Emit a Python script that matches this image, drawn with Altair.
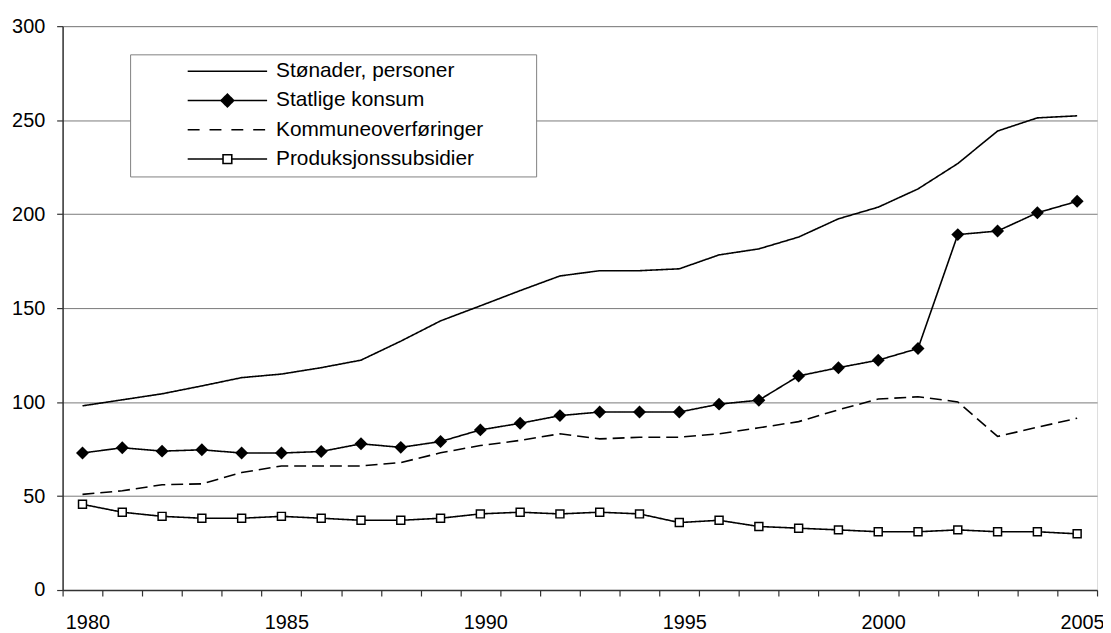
import altair as alt
import pandas as pd

years = list(range(1980, 2006))
series_names = ["Stønader, personer", "Statlige konsum", "Kommuneoverføringer", "Produksjonssubsidier"]

stonader = [98.0, 101.2, 104.4, 108.6, 113.0, 114.9, 118.3, 122.3, 132.4, 143.2, 151.2, 159.3, 167.1,
            169.9, 169.9, 170.9, 178.3, 181.5, 187.8, 197.5, 203.7, 213.4, 226.9, 244.2, 251.2, 252.3]
statlige = [72.9, 75.7, 73.9, 74.6, 72.9, 72.9, 73.7, 77.8, 75.9, 79.0, 85.2, 88.7, 92.8,
            94.7, 94.7, 94.7, 98.9, 101.0, 113.9, 118.3, 122.3, 128.5, 189.1, 191.0, 200.7, 206.8]
kommune = [50.9, 52.8, 56.0, 56.5, 62.5, 66.0, 66.0, 66.0, 67.8, 73.0, 76.9, 79.6, 83.1,
           80.4, 81.3, 81.3, 83.1, 86.3, 89.6, 95.9, 101.6, 102.8, 100.1, 81.7, 86.6, 91.4]
produksjon = [45.6, 41.4, 39.2, 38.2, 38.2, 39.2, 38.2, 37.1, 37.1, 38.2, 40.5, 41.4, 40.5,
              41.4, 40.5, 35.9, 37.1, 33.8, 32.9, 32.0, 31.0, 31.0, 32.0, 31.0, 31.0, 29.9]

y_ticks = [0, 50, 100, 150, 200, 250, 300]

rows = []
for name, vals in zip(series_names, [stonader, statlige, kommune, produksjon]):
    for yr, v in zip(years, vals):
        rows.append({"year": yr, "value": v, "series": name})
df = pd.DataFrame(rows)

FONT = "Liberation Sans"
boundaries = [y - 0.5 for y in years] + [years[-1] + 0.5]

x_enc = alt.X(
    "year:Q",
    scale=alt.Scale(domain=[years[0] - 0.5, years[-1] + 0.5], nice=False, zero=False),
    axis=alt.Axis(
        values=boundaries, title=None, grid=False,
        labelExpr="(datum.value + 0.5) % 5 == 0 ? format(datum.value + 0.5, 'd') : ''",
        labelOffset=25, labelFlush=False, labelOverlap=False, labelBound=False,
        labelFont=FONT, labelFontSize=20, labelColor="black", labelPadding=17,
        tickSize=6, tickColor="#333333", tickWidth=1.2,
        domainColor="#333333", domainWidth=1.5,
    ),
)
y_enc = alt.Y(
    "value:Q",
    scale=alt.Scale(domain=[0, 300], nice=False),
    axis=alt.Axis(
        values=y_ticks, title=None, grid=True, gridColor="#7a7a7a", gridWidth=1,
        labelFont=FONT, labelFontSize=20, labelColor="black", labelPadding=12,
        tickSize=6, tickColor="#333333", tickWidth=1.2,
        domainColor="#333333", domainWidth=1.5,
    ),
)

base = alt.Chart(df).encode(x=x_enc, y=y_enc)

legend_paths = [
    "M-1,0L1,0",
    "M-1,0L1,0M0,-0.16L0.16,0L0,0.16L-0.16,0Z",
    "M-1,0L-0.65,0M-0.45,0L-0.1,0M0.1,0L0.45,0M0.65,0L1,0",
    "M-1,0L-0.11,0M0.11,0L1,0M-0.11,-0.11L0.11,-0.11L0.11,0.11L-0.11,0.11Z",
]
legend_fills = ["transparent", "black", "transparent", "white"]

leg = alt.Legend(
    title="\u00a0", titleOrient="right", titlePadding=46, titleFontSize=10,
    orient="none", legendX=68, legendY=28.4,
    fillColor="white", strokeColor="#808080", padding=7,
    labelFont=FONT, labelFontSize=21, labelColor="black", labelLimit=400, labelOffset=8,
    symbolSize=6400, symbolOffset=50, symbolStrokeColor="black", symbolStrokeWidth=1.6,
    symbolFillColor="white", symbolOpacity=1, rowPadding=8.5, clipHeight=20,
)

# invisible layer that carries the legend
legend_layer = base.mark_point(
    filled=False, color="black", size=6400, opacity=0, strokeWidth=1.6
).encode(
    shape=alt.Shape("series:N", scale=alt.Scale(domain=series_names, range=legend_paths), legend=leg),
    fill=alt.Fill("series:N", scale=alt.Scale(domain=series_names, range=legend_fills), legend=leg),
)

lines = base.mark_line(color="black", strokeWidth=1.6).encode(
    detail="series:N",
    strokeDash=alt.StrokeDash(
        "series:N",
        scale=alt.Scale(domain=series_names, range=[[1, 0], [1, 0], [12, 6], [1, 0]]),
        legend=None,
    ),
)

diamonds = base.transform_filter(alt.datum.series == series_names[1]).mark_point(
    shape="diamond", filled=True, color="black", size=170, opacity=1
)
squares = base.transform_filter(alt.datum.series == series_names[3]).mark_point(
    shape="square", filled=True, fill="white", stroke="black", strokeWidth=1.5, size=64, opacity=1
)

chart = alt.layer(legend_layer, lines, diamonds, squares).properties(
    width=1042, height=568,
    autosize=alt.AutoSizeParams(type="none"),
    padding={"left": 55, "top": 16, "right": 6, "bottom": 41},
).configure_view(stroke="#a0a0a0", strokeWidth=1.5).configure(background="white")

chart.save("out.html", embed_options={"renderer": "svg", "actions": False})
